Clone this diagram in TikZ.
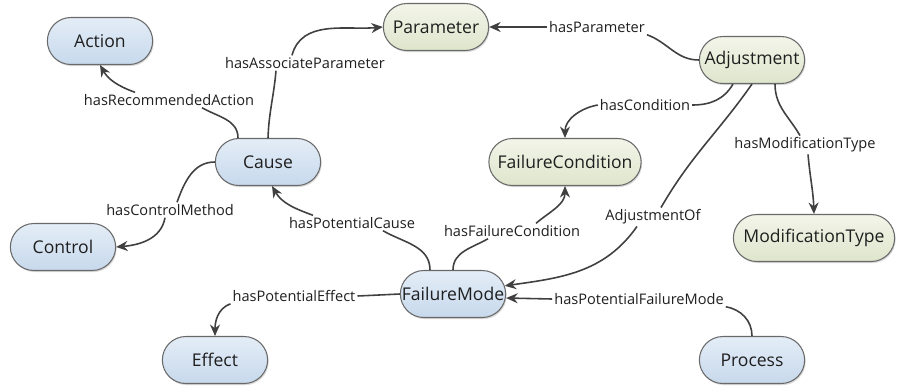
\documentclass[tikz,border=0pt]{standalone}
\usepackage{fontspec}
\setmainfont{Open Sans}
\usetikzlibrary{arrows.meta,calc,shapes.misc,shadows}
\definecolor{classtop}{RGB}{228,237,247}
\definecolor{classbot}{RGB}{199,217,236}
\definecolor{proptop}{RGB}{243,245,233}
\definecolor{propbot}{RGB}{222,229,204}
\definecolor{rimgray}{RGB}{105,105,105}
\definecolor{linkgray}{RGB}{64,64,64}

\begin{document}
\begin{tikzpicture}[x=0.02cm, y=0.02cm,
    every node/.style={font=\fontsize{10}{12}\selectfont, text=black!88},
    concept/.style={rounded rectangle, draw=rimgray, line width=0.6pt, minimum width=2.34cm, minimum height=0.94cm,
      drop shadow={shadow xshift=0.6pt, shadow yshift=-0.9pt, opacity=0.3}},
    bluecls/.style={concept, top color=classtop, bottom color=classbot},
    greencls/.style={concept, top color=proptop, bottom color=propbot},
    rel/.style={fill=white, inner sep=1pt, font=\fontsize{8.3}{10}\selectfont},
    link/.style={draw=linkgray, line width=0.9pt},
    arr/.style={link, -{Stealth[length=2.3mm, width=2mm]}}]
  \useasboundingbox (0,0) rectangle (902,-387);

  \node[bluecls] (action) at (100,-41) {Action};
  \node[greencls] (parameter) at (436,-27) {Parameter};
  \node[greencls] (adjustment) at (752,-60) {Adjustment};
  \node[bluecls] (cause) at (268,-162) {Cause};
  \node[greencls, minimum width=3.28cm] (failcond) at (565,-162) {FailureCondition};
  \node[bluecls] (control) at (63,-247) {Control};
  \node[greencls, minimum width=3.46cm] (modtype) at (814,-238) {ModificationType};
  \node[bluecls] (failmode) at (453,-294) {FailureMode};
  \node[bluecls] (effect) at (215,-360) {Effect};
  \node[bluecls] (process) at (752,-360) {Process};

  \node[rel] (recAction) at (169,-100) {hasRecommendedAction};
  \node[rel] (assocParam) at (305,-63) {hasAssociateParameter};
  \node[rel] (hasParam) at (597,-27) {hasParameter};
  \node[rel] (hasCond) at (645,-105) {hasCondition};
  \node[rel] (modType) at (805,-145) {hasModificationType};
  \node[rel] (adjOf) at (653,-217) {AdjustmentOf};
  \node[rel] (potFM) at (639,-299) {hasPotentialFailureMode};
  \node[rel] (failCondRel) at (512,-231) {hasFailureCondition};
  \node[rel] (potCause) at (352,-223) {hasPotentialCause};
  \node[rel] (ctrlMethod) at (170,-210) {hasControlMethod};
  \node[rel] (potEffect) at (294,-296) {hasPotentialEffect};

  \draw[link] ($(cause.north)+(-30,0)$) to[out=90,in=-30] ($(recAction.south)+(33,0)$);
  \draw[arr] ($(recAction.north)+(-34,0)$) to[out=160,in=-60] (action.south);

  \draw[link] (cause.north) to[out=88,in=-95] ($(assocParam.south)+(-29,0)$);
  \draw[arr] ($(assocParam.north)+(-13,0)$) to[out=75,in=185] (parameter.west);

  \draw[link] (adjustment.west) to[out=180,in=-20] (hasParam.south east);
  \draw[arr] (hasParam.west) -- (parameter.east);

  \draw[link] ($(adjustment.south)+(-19,0)$) to[out=-120,in=0] (hasCond.east);
  \draw[arr] (hasCond.west) to[out=190,in=90] (failcond.north);

  \draw[link] ($(adjustment.south)+(23,0)$) to[out=-90,in=120] ($(modType.north)+(-5,0)$);
  \draw[arr] ($(modType.south)+(3,0)$) to[out=-85,in=92] (modtype.north);

  \draw[link] (adjustment.south) to[out=-125,in=60] ($(adjOf.north)+(8,0)$);
  \draw[arr] ($(adjOf.south)+(-16,0)$) to[out=-125,in=8] (failmode.9);

  \draw[link] (process.north) to[out=90,in=-10] (potFM.south east);
  \draw[arr] (potFM.west) -- ($(failmode.east)+(0,-4)$);

  \draw[link] (failmode.north) to[out=90,in=-150] ($(failCondRel.south)+(-24,0)$);
  \draw[arr] ($(failCondRel.north)+(24,0)$) to[out=40,in=-90] (failcond.south);

  \draw[link] ($(failmode.north)+(-23,0)$) to[out=90,in=-30] ($(potCause.south)+(31,0)$);
  \draw[arr] ($(potCause.north)+(-39,0)$) to[out=160,in=-60] ($(cause.south)+(4,0)$);

  \draw[link] (cause.west) to[out=180,in=70] ($(ctrlMethod.north)+(7,0)$);
  \draw[arr] ($(ctrlMethod.south)+(-5,0)$) to[out=-100,in=5] (control.east);

  \draw[link] (failmode.west) -- (potEffect.east);
  \draw[arr] (potEffect.south west) to[out=200,in=90] (effect.north);
\end{tikzpicture}
\end{document}
